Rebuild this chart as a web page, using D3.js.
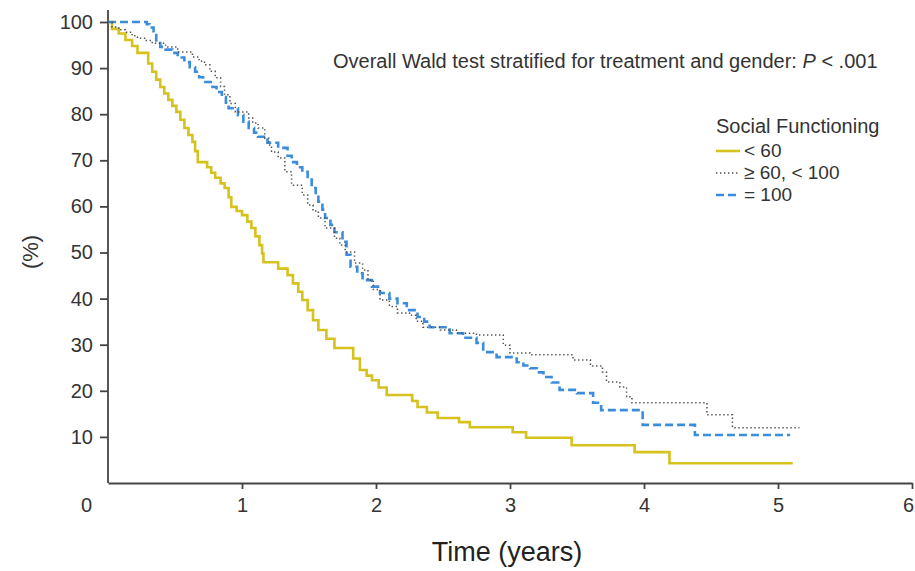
<!DOCTYPE html>
<html><head><meta charset="utf-8">
<script src="https://cdn.jsdelivr.net/npm/d3@7"></script>
<style>
body{margin:0;background:#fff}
svg{display:block}
text{font-family:"Liberation Sans",Arial,Helvetica,sans-serif}
</style>
</head><body>
<svg id="chart" width="915" height="571"></svg>
<script>
// ---- data ----
const xTickValues = [0, 1, 2, 3, 4, 5, 6];
const yTickValues = [10, 20, 30, 40, 50, 60, 70, 80, 90, 100];
const seriesNames = ["< 60", "\u2265 60, < 100", "= 100"];
const legendTitle = "Social Functioning";
const annotationText = "Overall Wald test stratified for treatment and gender: ";
const annotationP = "P";
const annotationTail = " < .001";
const xLabel = "Time (years)";
const yLabel = "(%)";

const timeLt60 = [0,0.03,0.08,0.13,0.18,0.22,0.30,0.33,0.36,0.39,0.42,0.45,0.48,0.51,0.54,0.57,0.60,0.63,0.65,0.67,0.74,0.77,0.80,0.84,0.87,0.90,0.92,0.96,1.00,1.04,1.07,1.10,1.13,1.15,1.16,1.27,1.34,1.38,1.42,1.45,1.49,1.53,1.57,1.63,1.69,1.83,1.88,1.93,1.97,2.02,2.08,2.27,2.31,2.38,2.46,2.62,2.70,3.02,3.12,3.46,3.93,4.19,5.11];
const survLt60 = [100,98.5,97.5,96.1,94.8,93.3,91.0,89.2,87.5,85.9,84.5,83.1,81.8,80.5,78.8,77.0,75.5,74.0,72.0,69.6,68.5,67.3,66.2,65.0,64.0,62.0,59.9,59.0,58.1,56.7,55.3,53.5,51.6,49.8,47.9,46.5,45.1,43.3,41.5,39.7,37.5,35.3,33.2,31.3,29.3,27.0,24.5,23.3,22.3,20.7,19.1,17.8,16.5,15.3,14.1,13.2,12.1,11.0,9.8,8.2,6.7,4.3,4.3];

const timeMid = [0,0.03,0.08,0.13,0.18,0.22,0.28,0.33,0.43,0.52,0.63,0.68,0.72,0.76,0.80,0.84,0.87,0.91,0.95,1.05,1.08,1.12,1.17,1.20,1.22,1.27,1.32,1.37,1.45,1.49,1.53,1.57,1.62,1.69,1.73,1.77,1.84,1.90,1.94,1.98,2.03,2.10,2.16,2.25,2.30,2.35,2.48,2.60,2.75,2.95,3.00,3.15,3.47,3.60,3.69,3.72,3.82,3.87,3.91,4.47,4.66,5.16];
const survMid = [100,98.9,98.3,97.8,97.0,96.5,96.0,95.4,94.6,93.5,92.4,91.5,90.7,89.3,87.9,86.0,84.2,82.3,80.5,79.2,78.1,77.0,74.8,73.3,71.8,70.5,67.5,64.6,62.5,60.3,59.0,57.5,55.3,53.1,51.6,50.1,47.7,46.2,44.0,42.0,39.7,38.3,36.9,36.4,35.1,33.8,33.2,32.5,32.1,29.9,28.2,27.8,26.7,25.4,24.1,21.9,20.8,18.7,17.4,14.8,12.0,12.0];

const time100 = [0,0.29,0.31,0.34,0.36,0.39,0.43,0.48,0.52,0.57,0.61,0.65,0.68,0.71,0.78,0.81,0.85,0.88,0.90,0.97,1.01,1.05,1.09,1.12,1.19,1.27,1.34,1.37,1.41,1.45,1.49,1.52,1.55,1.57,1.60,1.62,1.66,1.69,1.75,1.78,1.81,1.86,1.90,1.97,2.03,2.10,2.16,2.23,2.31,2.36,2.40,2.55,2.65,2.75,2.80,2.90,3.05,3.10,3.15,3.20,3.25,3.31,3.37,3.50,3.62,3.68,3.99,4.38,5.09];
const surv100 = [100,99.5,98.8,97.5,96.0,94.6,94.0,93.3,92.3,91.3,90.2,89.2,88.0,87.0,85.9,84.8,83.7,82.5,81.3,79.8,78.4,77.0,76.0,75.1,73.8,72.7,71.0,69.6,68.5,67.5,65.8,64.0,62.5,61.0,59.3,57.5,56.0,54.4,52.3,49.5,46.9,45.5,44.0,42.6,41.2,40.0,39.0,37.5,36.0,35.0,33.8,32.5,31.5,30.4,28.4,27.3,26.2,25.5,24.9,24.0,23.0,21.8,20.2,19.5,17.4,15.8,12.6,10.4,10.4];

// ---- drawing ----
const svg = d3.select("#chart");
const x = d3.scaleLinear().domain([0, 6]).range([108, 912]);
const y = d3.scaleLinear().domain([0, 100]).range([483, 22]);

const series = [
  {name: seriesNames[0], t: timeLt60, s: survLt60, color: "#d6c21c", width: 2.6, dash: null},
  {name: seriesNames[1], t: timeMid, s: survMid, color: "#505050", width: 1.5, dash: "1.4,2.6"},
  {name: seriesNames[2], t: time100, s: surv100, color: "#3b8ddc", width: 2.6, dash: "8,4"}
];

const line = d3.line().x(d => x(d[0])).y(d => y(d[1])).curve(d3.curveStepAfter);

// axes
const yAxis = svg.append("g").attr("transform", `translate(${x(0)},0)`)
  .call(d3.axisLeft(y).tickValues(yTickValues).tickSize(8).tickPadding(7).tickSizeOuter(0));
yAxis.select(".domain").remove();
yAxis.selectAll(".tick line").attr("stroke", "#444").attr("stroke-width", 1.8);
yAxis.selectAll(".tick text").attr("fill", "#333").style("font-size", "20px");
svg.append("line").attr("x1", x(0)).attr("x2", x(0)).attr("y1", y(0)).attr("y2", y(102.6))
  .attr("stroke", "#444").attr("stroke-width", 1.8);

const xAxis = svg.append("g").attr("transform", `translate(0,${y(0)})`)
  .call(d3.axisBottom(x).tickValues(xTickValues).tickFormat(d3.format("d"))
    .tickSize(6).tickPadding(9).tickSizeOuter(0));
xAxis.select(".domain").attr("stroke", "#444").attr("stroke-width", 1.8);
xAxis.selectAll(".tick line").attr("stroke", "#444").attr("stroke-width", 1.8);
xAxis.selectAll(".tick text").attr("fill", "#333").style("font-size", "20px");
xAxis.selectAll(".tick").filter(d => d === 0).select("line").remove();
xAxis.selectAll(".tick").filter(d => d === 0).select("text").attr("x", -22);
xAxis.selectAll(".tick").filter(d => d === 6).select("text").attr("x", -4);

// curves
const drawOrder = [0, 2, 1];
drawOrder.forEach(i => {
  const sr = series[i];
  const pts = sr.t.map((t, k) => [t, sr.s[k]]);
  svg.append("path").datum(pts).attr("d", line)
    .attr("fill", "none").attr("stroke", sr.color).attr("stroke-width", sr.width)
    .attr("stroke-dasharray", sr.dash).attr("stroke-linejoin", "miter");
});

// axis titles
svg.append("text").attr("x", 507).attr("y", 561).attr("text-anchor", "middle")
  .attr("fill", "#222").style("font-size", "27px").text(xLabel);
svg.append("text").attr("transform", "translate(38,252) rotate(-90)").attr("text-anchor", "middle")
  .attr("fill", "#333").style("font-size", "22px").text(yLabel);

// annotation
const ann = svg.append("text").attr("x", 333).attr("y", 68).attr("fill", "#333").style("font-size", "20px");
ann.append("tspan").text(annotationText);
ann.append("tspan").style("font-style", "italic").text(annotationP);
ann.append("tspan").text(annotationTail);

// legend
svg.append("text").attr("x", 716).attr("y", 133).attr("fill", "#333").style("font-size", "20px").text(legendTitle);
series.forEach((sr, i) => {
  const yy = 151 + i * 22;
  svg.append("line").attr("x1", 716).attr("x2", 740).attr("y1", yy).attr("y2", yy)
    .attr("stroke", sr.color).attr("stroke-width", sr.width).attr("stroke-dasharray", sr.dash);
  svg.append("text").attr("x", 744).attr("y", yy + 6).attr("fill", "#333").style("font-size", "19px").text(sr.name);
});
</script>
</body></html>
